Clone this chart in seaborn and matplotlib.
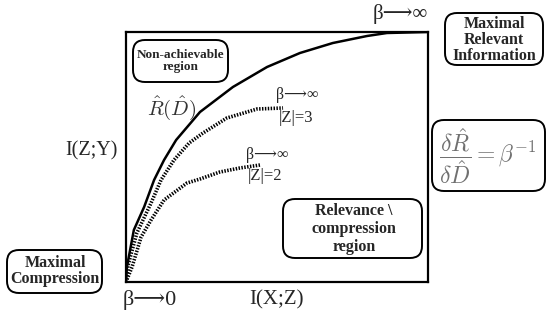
import matplotlib
matplotlib.use("Agg")
import matplotlib.pyplot as plt
from matplotlib.patches import FancyBboxPatch
import seaborn as sns

# curve points (I(X;Z), I(Z;Y)), both scaled 0..1
opt_x = [0, 0.003, 0.026, 0.060, 0.093, 0.126, 0.166, 0.245, 0.354, 0.467, 0.576, 0.685, 0.798, 0.864, 1.0]
opt_y = [0, 0.060, 0.208, 0.300, 0.408, 0.488, 0.568, 0.680, 0.780, 0.860, 0.916, 0.956, 0.984, 0.996, 1.0]

z3_x = [0, 0.007, 0.036, 0.083, 0.116, 0.159, 0.209, 0.255, 0.334, 0.434, 0.520]
z3_y = [0, 0.068, 0.196, 0.316, 0.408, 0.488, 0.556, 0.596, 0.656, 0.692, 0.696]

z2_x = [0, 0.020, 0.050, 0.083, 0.126, 0.202, 0.245, 0.311, 0.377, 0.444]
z2_y = [0, 0.060, 0.180, 0.248, 0.328, 0.396, 0.412, 0.440, 0.456, 0.468]

sns.set_style("white")
plt.rcParams['font.family'] = ['Liberation Serif', 'DejaVu Serif', 'DejaVu Sans']
plt.rcParams['mathtext.fontset'] = 'cm'

fig = plt.figure(figsize=(5.5, 3.19), dpi=100)
ax = fig.add_axes([126/550, 1 - 282/319, 302/550, 250/319])

sns.lineplot(x=opt_x, y=opt_y, ax=ax, color='black', lw=1.8, sort=False)
sns.lineplot(x=z3_x, y=z3_y, ax=ax, color='black', lw=2.6, sort=False,
             linestyle=(0, (0.4, 0.4)))
sns.lineplot(x=z2_x, y=z2_y, ax=ax, color='black', lw=2.6, sort=False,
             linestyle=(0, (0.4, 0.4)))

ax.set_xlim(0, 1)
ax.set_ylim(0, 1)
ax.set_xticks([])
ax.set_yticks([])
ax.set_xlabel("")
ax.set_ylabel("")
for s in ax.spines.values():
    s.set_color('black')
    s.set_linewidth(1.6)


def put(px, py, txt, **kw):
    fig.text(px/550, 1 - py/319, txt, ha='center', va='center', **kw)


def rbox(x0, y0, x1, y1, r=0.12):
    # rounded frame given in pixel corners, drawn in inches
    p = FancyBboxPatch((x0/100, (319 - y1)/100), (x1 - x0)/100, (y1 - y0)/100,
                       boxstyle=f"round,pad=0,rounding_size={r}",
                       transform=fig.dpi_scale_trans, fc='white', ec='black',
                       lw=1.4, zorder=3)
    fig.add_artist(p)


rbox(445, 13, 543, 65)
rbox(133, 40, 228, 82)
rbox(7, 250, 102, 293)
rbox(283, 199, 422, 258)
rbox(432, 120, 545, 191)

put(494, 40, "Maximal\nRelevant\nInformation", fontsize=11.5, fontweight='bold',
    linespacing=1.0, zorder=4)
put(181, 61, "Non-achievable\nregion", fontsize=9.5, fontweight='bold',
    linespacing=1.05, zorder=4)
put(55, 271, "Maximal\nCompression", fontsize=11.5, fontweight='bold',
    linespacing=1.0, zorder=4)
put(354, 229, "Relevance \\\ncompression\nregion", fontsize=11.5, fontweight='bold',
    linespacing=1.15, zorder=4)
put(488, 156, r"$\dfrac{\delta\hat{R}}{\delta\hat{D}} = \beta^{-1}$", fontsize=17,
    color='#707070', zorder=4)

put(172, 108, r"$\hat{R}(\hat{D})$", fontsize=15, color='#333333')
put(400, 14, "β⟶∞", fontsize=15)
put(150, 300, "β⟶0", fontsize=16)
put(276, 300, "I(X;Z)", fontsize=15)
put(91, 151, "I(Z;Y)", fontsize=14.5)

put(297, 95, "β⟶∞", fontsize=11.5)
put(296, 118, "|Z|=3", fontsize=12)
put(267, 155, "β⟶∞", fontsize=11.5)
put(265, 176, "|Z|=2", fontsize=12)

fig.savefig("out.png", dpi=100)
